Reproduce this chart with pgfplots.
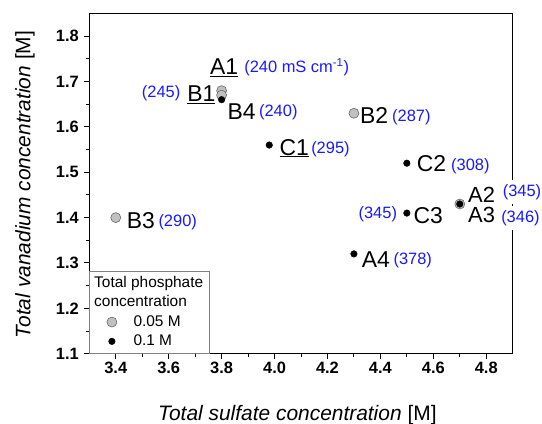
\documentclass[border=0pt]{standalone}
\usepackage{fontspec}
\setmainfont{Liberation Sans}
\usepackage{pgfplots}
\pgfplotsset{compat=1.18}
\definecolor{lblue}{RGB}{25,25,255}
\definecolor{mgray}{RGB}{192,192,192}
\definecolor{egray}{RGB}{105,105,105}
\newcommand\lab{\fontsize{23}{23}\selectfont}
\newcommand\num{\fontsize{16.5}{16.5}\selectfont\color{lblue}}
\begin{document}
\begin{tikzpicture}
\begin{axis}[
  scale only axis, width=423.4bp, height=340.2bp,
  xmin=3.3, xmax=4.9, ymin=1.1, ymax=1.85,
  clip=false,
  xtick={3.4,3.6,3.8,4.0,4.2,4.4,4.6,4.8},
  ytick={1.1,1.2,1.3,1.4,1.5,1.6,1.7,1.8},
  minor x tick num=1, minor y tick num=1,
  tick align=outside, xtick pos=bottom, ytick pos=left,
  major tick length=5bp, minor tick length=3bp,
  axis line style={line width=1.2bp},
  every tick/.style={line width=1bp, black},
  /pgf/number format/assume math mode=true,
  /pgf/number format/.cd, fixed, fixed zerofill, precision=1, /pgfplots/.cd,
  ticklabel style={font=\fontsize{16.5}{16.5}\selectfont\bfseries},
  yticklabel style={xshift=-2bp},
  xlabel={\textit{Total sulfate concentration} [M]},
  ylabel={\textit{Total vanadium concentration} [M]},
  label style={font=\fontsize{21}{21}\selectfont},
  xlabel style={at={(axis description cs:0.4915,-0.1958)}, anchor=base},
  ylabel style={at={(axis description cs:-0.1389,0.497)}, anchor=base},
  legend cell align=left,
  legend image code/.code={\path[draw=none,fill=none] (-10bp,-3bp) rectangle (10bp,3bp); \draw[#1] plot coordinates {(0bp,0.5bp)};},
  legend style={at={(axis description cs:0.0293,0.0126)}, anchor=south west,
    draw=none, fill=none, inner sep=0pt, font=\fontsize{15.5}{15.5}\selectfont,
    nodes={inner sep=0pt, text height=11.3bp, text depth=3.4bp},
    column sep=11.6bp, row sep=4.6bp},
]
\addplot[only marks, mark=*, mark size=5bp, mark options={fill=mgray, draw=egray, line width=0.6bp}]
  coordinates {(3.8,1.68) (3.8,1.67) (4.3,1.63) (3.4,1.40) (4.7,1.43)};
\addlegendentry{0.05 M}
\addplot[only marks, mark=*, mark size=3.3bp, black]
  coordinates {(3.8,1.66) (3.98,1.56) (4.5,1.52) (4.5,1.41) (4.7,1.43) (4.3,1.32)};
\addlegendentry{0.1 M}

\node[anchor=base west, inner sep=0] at (axis cs:3.756,1.7147) {\lab\underline{A1}};
\node[anchor=base west, inner sep=0] at (axis cs:3.885,1.719) {\num(240 mS cm\textsuperscript{-1})};
\node[anchor=base west, inner sep=0] at (axis cs:3.498,1.6638) {\num(245)};
\node[anchor=base west, inner sep=0] at (axis cs:3.670,1.6557) {\lab\underline{B1}};
\node[anchor=base west, inner sep=0] at (axis cs:3.8215,1.6167) {\lab B4};
\node[anchor=base west, inner sep=0] at (axis cs:3.941,1.624) {\num(240)};
\node[anchor=base west, inner sep=0] at (axis cs:4.323,1.6079) {\lab B2};
\node[anchor=base west, inner sep=0] at (axis cs:4.444,1.613) {\num(287)};
\node[anchor=base west, inner sep=0] at (axis cs:4.018,1.538) {\lab\underline{C1}};
\node[anchor=base west, inner sep=0] at (axis cs:4.138,1.5422) {\num(295)};
\node[anchor=base west, inner sep=0] at (axis cs:4.537,1.5009) {\lab C2};
\node[anchor=base west, inner sep=0] at (axis cs:4.667,1.5046) {\num(308)};
\node[anchor=base west, inner sep=0, font=\fontsize{22}{22}\selectfont] at (axis cs:4.731,1.4325) {A2};
\node[anchor=base west, inner sep=0, font=\fontsize{22}{22}\selectfont] at (axis cs:4.731,1.3895) {A3};
\node[anchor=base west, inner sep=0] at (axis cs:4.317,1.3985) {\num(345)};
\node[anchor=base west, inner sep=0] at (axis cs:4.5245,1.3881) {\lab C3};
\node[anchor=base west, inner sep=0] at (axis cs:4.3295,1.2908) {\lab A4};
\node[anchor=base west, inner sep=0] at (axis cs:4.449,1.2968) {\num(378)};
\node[anchor=base west, inner sep=0] at (axis cs:3.4413,1.3758) {\lab B3};
\node[anchor=base west, inner sep=0] at (axis cs:3.5608,1.3808) {\num(290)};
\coordinate (r345) at (axis cs:4.862,1.4472);
\coordinate (r346) at (axis cs:4.856,1.3897);
\end{axis}
\node[anchor=base west, fill=white, inner xsep=1bp, inner ysep=4bp, xshift=-1bp] at (r345) {\num(345)};
\node[anchor=base west, fill=white, inner xsep=1bp, inner ysep=4bp, xshift=-1bp] at (r346) {\num(346)};
\draw[gray, line width=0.6bp] (0bp,0bp) rectangle (120bp,82.7bp);
\node[anchor=base west, inner sep=0, font=\fontsize{15.5}{15.5}\selectfont] at (4.7bp,66.4bp) {Total phosphate};
\node[anchor=base west, inner sep=0, font=\fontsize{15.5}{15.5}\selectfont] at (4.7bp,47bp) {concentration};
\pgfresetboundingbox
\path (-89.3bp,-70.3bp) rectangle (452.7bp,353.7bp);
\end{tikzpicture}
\end{document}
